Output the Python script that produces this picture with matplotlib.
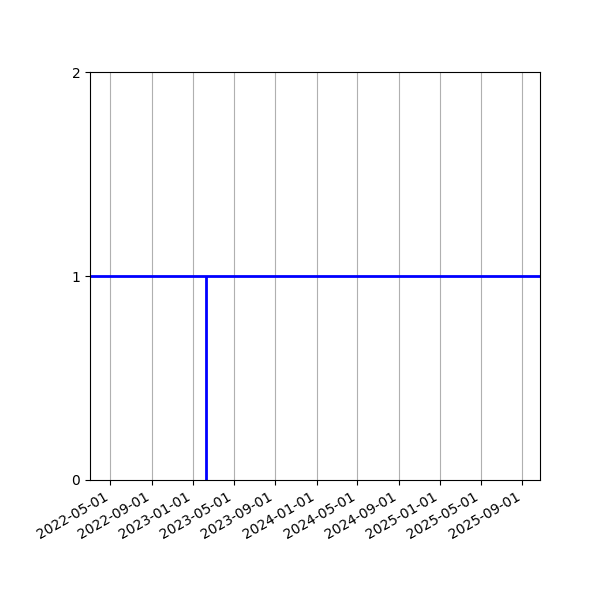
import numpy as np
import matplotlib
matplotlib.use("Agg")
import matplotlib.pyplot as plt
import matplotlib.dates as mdates

# data
level = 1
event_dates = np.array(["2023-02-07"], dtype="datetime64[D]")
x_range = np.array(["2022-03-02", "2025-10-23"], dtype="datetime64[D]")
y_ticks = [0, 1, 2]

fig, ax = plt.subplots(figsize=(6, 6), dpi=100)
fig.subplots_adjust(left=0.15, right=0.9, top=0.88, bottom=0.2)

ax.axhline(level, color="blue", linewidth=2)
ax.vlines(event_dates, 0, level, color="blue", linewidth=2)

ax.set_xlim(x_range[0], x_range[1])
ax.set_ylim(0, 2)
ax.set_yticks(y_ticks)
ax.xaxis.set_major_locator(mdates.MonthLocator(bymonth=[1, 5, 9]))
ax.xaxis.set_major_formatter(mdates.DateFormatter("%Y-%m-%d"))
ax.grid(True, axis="x")
fig.autofmt_xdate()
fig.subplots_adjust(left=0.15, bottom=0.2)

plt.savefig("out.png", dpi=100)
